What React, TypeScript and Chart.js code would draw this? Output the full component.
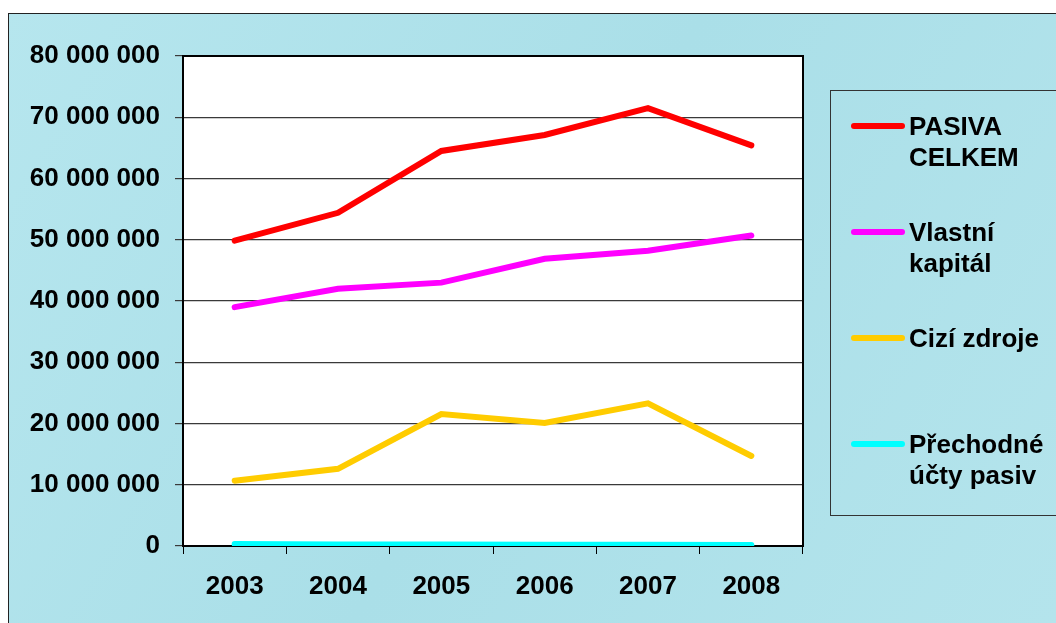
import React, { useEffect, useRef } from "react";
import { Chart, registerables } from "chart.js";

Chart.register(...registerables);

const years = ["2003", "2004", "2005", "2006", "2007", "2008"];
const pasivaCelkem = [49850000, 54400000, 64500000, 67100000, 71500000, 65400000];
const vlastniKapital = [39000000, 42000000, 43000000, 46900000, 48200000, 50700000];
const ciziZdroje = [10650000, 12600000, 21550000, 20100000, 23300000, 14700000];
const prechodneUcty = [330000, 260000, 240000, 220000, 200000, 170000];
const seriesNames = ["PASIVA\nCELKEM", "Vlastní\nkapitál", "Cizí zdroje", "Přechodné\núčty pasiv"];
const seriesColors = ["#FF0000", "#FF00FF", "#FFCC00", "#00FFFF"];
const yTicks = [0, 10000000, 20000000, 30000000, 40000000, 50000000, 60000000, 70000000, 80000000];

const FONT = "'Liberation Sans', Arial, sans-serif";

function fmt(v: number): string {
  return String(Math.round(v)).replace(/\B(?=(\d{3})+(?!\d))/g, " ");
}

const framePlugin = {
  id: "frame",
  beforeDraw(chart: any) {
    const { ctx, chartArea } = chart;
    const w = chart.width;
    const h = chart.height;
    ctx.save();
    ctx.fillStyle = "#ffffff";
    ctx.fillRect(0, 0, w, h);
    const g = ctx.createLinearGradient(0, 13, w, h);
    g.addColorStop(0, "#b6e6ee");
    g.addColorStop(0.5, "#aadfe8");
    g.addColorStop(1, "#b4e4ec");
    ctx.fillStyle = g;
    ctx.fillRect(8, 13, w - 8, h - 13);
    ctx.strokeStyle = "#222";
    ctx.lineWidth = 1;
    ctx.strokeRect(8.5, 13.5, w, h);
    ctx.fillStyle = "#ffffff";
    ctx.fillRect(chartArea.left, chartArea.top, chartArea.right - chartArea.left, chartArea.bottom - chartArea.top);
    ctx.restore();
  },
  beforeDatasetsDraw(chart: any) {
    const { ctx, chartArea } = chart;
    ctx.save();
    ctx.strokeStyle = "#000";
    ctx.lineWidth = 2;
    ctx.strokeRect(chartArea.left, chartArea.top, chartArea.right - chartArea.left, chartArea.bottom - chartArea.top);
    ctx.restore();
  },
  afterDraw(chart: any) {
    const { ctx } = chart;
    ctx.save();
    ctx.strokeStyle = "#333";
    ctx.lineWidth = 1;
    ctx.strokeRect(830.5, 90.5, 240, 425);
    const tops = [126, 232, 338, 444];
    ctx.font = `bold 26px ${FONT}`;
    ctx.textBaseline = "middle";
    ctx.textAlign = "left";
    chart.data.datasets.forEach((ds: any, i: number) => {
      const y = tops[i];
      ctx.strokeStyle = ds.borderColor;
      ctx.lineWidth = 6;
      ctx.lineCap = "round";
      ctx.beginPath();
      ctx.moveTo(854, y);
      ctx.lineTo(902, y);
      ctx.stroke();
      ctx.fillStyle = "#000";
      String(ds.label).split("\n").forEach((line: string, j: number) => {
        ctx.fillText(line, 909, y + 2 + j * 31);
      });
    });
    ctx.restore();
  },
};

export default function App() {
  const ref = useRef<HTMLCanvasElement>(null);
  useEffect(() => {
    document.body.style.margin = "0";
    const seriesData = [pasivaCelkem, vlastniKapital, ciziZdroje, prechodneUcty];
    const chart = new Chart(ref.current as HTMLCanvasElement, {
      type: "line",
      data: {
        labels: years,
        datasets: seriesData.map((d, i) => ({
          label: seriesNames[i],
          data: d,
          borderColor: seriesColors[i],
          backgroundColor: seriesColors[i],
          borderWidth: 6,
          pointRadius: 0,
          tension: 0,
          borderCapStyle: "round" as const,
          borderJoinStyle: "miter" as const,
          fill: false,
        })),
      },
      options: {
        responsive: false,
        animation: false,
        layout: { padding: { left: 0, top: 56, right: 253, bottom: 0 } },
        plugins: { legend: { display: false }, tooltip: { enabled: false } },
        scales: {
          x: {
            type: "category",
            offset: true,
            grid: { display: true, offset: true, drawOnChartArea: false, drawTicks: true, tickLength: 8, color: "#000", lineWidth: 1 },
            border: { display: false },
            ticks: { color: "#000", font: { family: FONT, size: 26, weight: "bold" }, padding: 17, maxRotation: 0 },
            afterFit: (s: any) => { s.height = 77; },
          },
          y: {
            min: 0,
            max: 80000000,
            afterBuildTicks: (s: any) => { s.ticks = yTicks.map((v) => ({ value: v })); },
            grid: { color: "#3a3a3a", lineWidth: 1.2, tickLength: 8, drawTicks: true },
            border: { display: false },
            ticks: {
              color: "#000",
              font: { family: FONT, size: 26, weight: "bold" },
              padding: 15,
              callback: (v: any) => fmt(Number(v)),
            },
            afterFit: (s: any) => { s.width = 183; },
          },
        },
      },
      plugins: [framePlugin],
    });
    return () => chart.destroy();
  }, []);
  return (
    <div style={{ position: "fixed", left: 0, top: 0, width: 1056, height: 623 }}>
      <canvas ref={ref} width={1056} height={623} style={{ display: "block" }} />
    </div>
  );
}
